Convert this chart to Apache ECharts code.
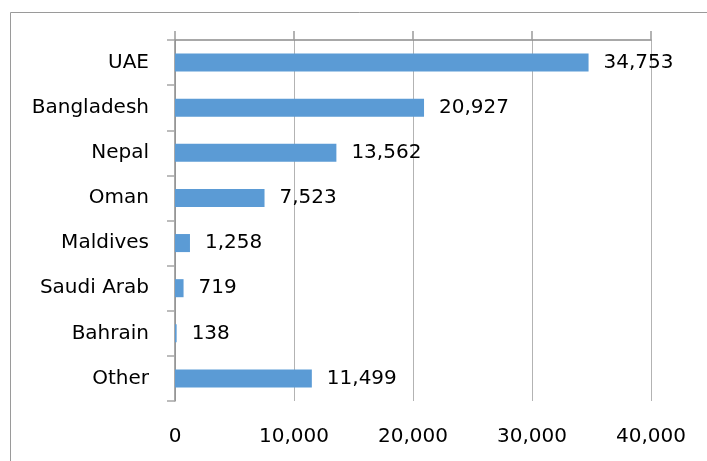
<!DOCTYPE html>
<html>
<head>
<meta charset="utf-8">
<script src="https://cdn.jsdelivr.net/npm/echarts@6/dist/echarts.min.js"></script>
<style>
html,body{margin:0;padding:0;background:#fff;}
#chart{width:707px;height:461px;}
</style>
</head>
<body>
<div id="chart"></div>
<script>
const categories = ['UAE', 'Bangladesh', 'Nepal', 'Oman', 'Maldives', 'Saudi Arab', 'Bahrain', 'Other'];
const values = [34753, 20927, 13562, 7523, 1258, 719, 138, 11499];
const xTicks = [0, 10000, 20000, 30000, 40000];

const FONT = 'DejaVu Sans';
const chart = echarts.init(document.getElementById('chart'), null, {renderer: 'canvas'});
const fmt = v => v.toLocaleString('en-US');

chart.setOption({
  animation: false,
  backgroundColor: '#ffffff',
  graphic: [{
    type: 'rect',
    left: 8, top: 10,
    shape: {width: 720, height: 470},
    style: {fill: 'none', stroke: '#9a9a9a', lineWidth: 1},
    silent: true, z: -10
  }],
  grid: {left: 175, right: 56, top: 40, bottom: 60, containLabel: false},
  xAxis: [{
    type: 'value',
    position: 'bottom',
    min: xTicks[0], max: xTicks[xTicks.length - 1], interval: 10000,
    axisLine: {show: false},
    axisTick: {show: false},
    splitLine: {show: true, lineStyle: {color: '#b3b3b3', width: 1}},
    axisLabel: {
      margin: 26, color: '#000', fontFamily: FONT, fontSize: 20,
      formatter: v => fmt(v)
    }
  }, {
    type: 'value',
    position: 'top',
    min: xTicks[0], max: xTicks[xTicks.length - 1], interval: 10000,
    axisLine: {show: true, lineStyle: {color: '#8c8c8c', width: 1.5}},
    axisTick: {show: true, length: 9, inside: false, lineStyle: {color: '#9a9a9a', width: 1.5}},
    splitLine: {show: false},
    axisLabel: {show: false}
  }],
  yAxis: {
    type: 'category',
    data: categories,
    inverse: true,
    axisLine: {show: true, lineStyle: {color: '#8c8c8c', width: 1.5}},
    axisTick: {show: true, length: 8, alignWithLabel: false, lineStyle: {color: '#a6a6a6', width: 1.5}},
    axisLabel: {margin: 26, color: '#000', fontFamily: FONT, fontSize: 20},
    splitLine: {show: false}
  },
  series: [{
    type: 'bar',
    data: values,
    xAxisIndex: 0,
    barCategoryGap: '60%',
    itemStyle: {color: '#5b9bd5'},
    label: {
      show: true, position: 'right', distance: 15,
      color: '#000', fontFamily: FONT, fontSize: 20,
      formatter: p => fmt(p.value)
    }
  }]
});
</script>
</body>
</html>
